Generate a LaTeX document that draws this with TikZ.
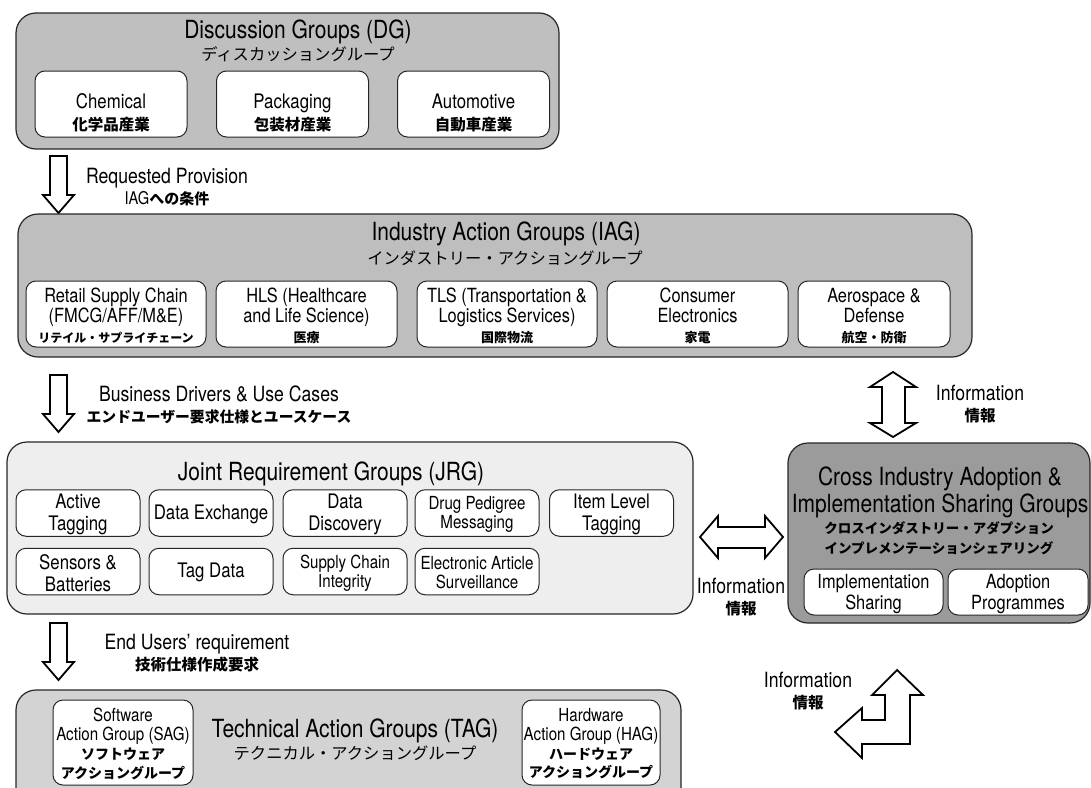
\documentclass[tikz,border=0pt]{standalone}
\usepackage{fontspec}
\setmainfont{TeX Gyre Heros}[FakeStretch=0.84]
\newfontfamily\jp{Noto Sans CJK JP}
\newcommand\jpb{\jp\bfseries}
\newcommand\fsz[2]{\fontsize{#1}{#2}\selectfont}
\definecolor{dgfill}{HTML}{BFBFBF}
\definecolor{iagfill}{HTML}{BEBEBE}
\definecolor{jrgfill}{HTML}{EEEEEE}
\definecolor{tagfill}{HTML}{D3D3D3}
\definecolor{ciagfill}{HTML}{9B9B9B}
\definecolor{edge}{HTML}{262626}
\begin{document}
\begin{tikzpicture}[x=1pt,y=-1pt,
  grp/.style={draw=edge, line width=1.2pt, rounded corners=20pt, inner sep=0pt},
  sub/.style={draw=edge, fill=white, line width=1pt, rounded corners=10pt, inner sep=0pt},
  txt/.style={align=center, inner sep=0pt},
  ttl/.style={txt, font={\fsz{25}{27}}},
  ttljp/.style={txt, font={\jp\fsz{16.3}{18}}},
  lbl/.style={txt, font={\fsz{21}{21}}},
  blk/.style={draw=black, fill=white, line width=1.8pt, line join=miter, miter limit=10},
  downblock/.pic={\draw[blk] (-8.5,0) -- (8.5,0) -- (8.5,39) -- (15.5,39) -- (0,57)
                   -- (-15.5,39) -- (-8.5,39) -- cycle;}
]
\useasboundingbox (0,0) rectangle (1091,787);
\clip (0,0) rectangle (1091,787);

% ---------- Discussion Groups ----------
\node[grp, fill=dgfill, minimum width=543pt, minimum height=136pt] (dg) at (287.5,81) {};
\node[ttl] (dgT) at (298,32) {Discussion Groups (DG)};
\node[ttljp] (dgJ) at (298,54) {ディスカッショングループ};
\foreach \nm/\cx/\en/\ja in {chem/111/Chemical/化学品産業,
                             pack/292.5/Packaging/包装材産業,
                             auto/473.5/Automotive/自動車産業}{
  \node[sub, minimum width=152pt, minimum height=66pt] (\nm) at (\cx,104) {};
  \node[txt, font={\fsz{20}{22}}] (\nm-t) at (\cx,113) {\en\\{\jpb\fsz{15.5}{22}\ja}};
}

% ---------- arrow DG -> IAG ----------
\pic at (58.5,156) {downblock};
\node[lbl] (reqL) at (167,187) {Requested Provision\\{\fsz{17.5}{21}IAG{\jpb\fsz{15}{21}への条件}}};

% ---------- Industry Action Groups ----------
\node[grp, fill=iagfill, minimum width=954pt, minimum height=143pt] (iag) at (495,285.5) {};
\node[ttl] (iagT) at (506,234) {Industry Action Groups (IAG)};
\node[ttljp] (iagJ) at (505,258) {インダストリー・アクショングループ};
\node[sub, minimum width=180pt, minimum height=66pt] (retail) at (116,314) {};
\node[sub, minimum width=181pt, minimum height=66pt] (hls) at (306.5,314) {};
\node[sub, minimum width=180pt, minimum height=66pt] (tls) at (507,314) {};
\node[sub, minimum width=181pt, minimum height=66pt] (ce) at (697.5,314) {};
\node[sub, minimum width=152pt, minimum height=66pt] (ad) at (874,314) {};
\tikzset{iagtxt/.style={txt, font={\fsz{19.5}{20}}}}
\node[iagtxt] (retail-t) at (116,316) {Retail Supply Chain\\(FMCG/AFF/M\&E)\\{\jpb\fsz{12}{20}リテイル・サプライチェーン}};
\node[iagtxt] (hls-t) at (306.5,316) {HLS (Healthcare\\and Life Science)\\{\jpb\fsz{13}{20}医療}};
\node[iagtxt] (tls-t) at (507,316) {TLS (Transportation \&\\Logistics Services)\\{\jpb\fsz{13}{20}国際物流}};
\node[iagtxt] (ce-t) at (697.5,316) {Consumer\\Electronics\\{\jpb\fsz{13}{20}家電}};
\node[iagtxt] (ad-t) at (874,316) {Aerospace \&\\Defense\\{\jpb\fsz{13}{20}航空・防衛}};

% ---------- arrow IAG -> JRG ----------
\pic at (58.5,375) {downblock};
\node[lbl] (bizL) at (219,405) {Business Drivers \& Use Cases\\{\jpb\fsz{14.8}{21}エンドユーザー要求仕様とユースケース}};

% ---------- IAG <-> CIAG ----------
\draw[blk] (893,372) -- (916,387) -- (905,387) -- (905,423) -- (916,423) -- (893,437)
  -- (870,423) -- (882,423) -- (882,387) -- (870,387) -- cycle;
\node[lbl] (infoA) at (980,404) {Information\\{\jpb\fsz{15.5}{21}情報}};

% ---------- Joint Requirement Groups ----------
\node[grp, fill=jrgfill, minimum width=686pt, minimum height=172pt] (jrg) at (350,528) {};
\node[ttl] (jrgT) at (331,474) {Joint Requirement Groups (JRG)};
\tikzset{jbig/.style={txt, font={\fsz{20}{22}}}, jsmall/.style={txt, font={\fsz{18}{19}}}}
\foreach \nm/\cx/\cy in {at/78/513, dx/211/513, dd/345/513, dp/477/513, il/611.5/513,
                         sb/78/571.5, td/211/571.5, sc/345/571.5, ea/477/571.5}{
  \node[sub, minimum width=124pt, minimum height=46.5pt] (\nm) at (\cx,\cy) {};
}
\node[jbig] (at-t) at (78,514) {Active\\Tagging};
\node[jbig] (dx-t) at (211,514) {Data Exchange};
\node[jbig] (dd-t) at (345,514) {Data\\Discovery};
\node[jsmall] (dp-t) at (477,514) {Drug Pedigree\\Messaging};
\node[jbig] (il-t) at (611.5,514) {Item Level\\Tagging};
\node[jbig] (sb-t) at (78,573) {Sensors \&\\Batteries};
\node[jbig] (td-t) at (211,572) {Tag Data};
\node[jsmall] (sc-t) at (345,573) {Supply Chain\\Integrity};
\node[jsmall] (ea-t) at (477,573) {Electronic Article\\Surveillance};

% ---------- JRG <-> CIAG ----------
\draw[blk] (700,537) -- (718,516) -- (718,527) -- (765,527) -- (765,516) -- (783,537)
  -- (765,558) -- (765,548) -- (718,548) -- (718,558) -- cycle;
\node[lbl] (infoB) at (741,597) {Information\\{\jpb\fsz{15.5}{21}情報}};

% ---------- Cross Industry Adoption & Implementation Sharing Groups ----------
\node[grp, fill=ciagfill, minimum width=302pt, minimum height=180pt] (ciag) at (939,533) {};
\node[ttl] (ciagT) at (940,492) {Cross Industry Adoption \&\\Implementation Sharing Groups};
\node[txt, font={\jpb\fsz{13.5}{20}}] (ciagJ) at (939,538) {クロスインダストリー・アダプション\\インプレメンテーションシェアリング};
\node[sub, minimum width=139pt, minimum height=46pt] (impl) at (873.5,592) {};
\node[sub, minimum width=140pt, minimum height=46pt] (adop) at (1018,592) {};
\node[txt, font={\fsz{19.5}{21}}] (impl-t) at (873.5,594) {Implementation\\Sharing};
\node[txt, font={\fsz{19.5}{21}}] (adop-t) at (1018,594) {Adoption\\Programmes};

% ---------- arrow JRG -> TAG ----------
\pic at (58.5,623) {downblock};
\node[lbl] (endL) at (197,653) {End Users' requirement\\{\jpb\fsz{15.5}{21}技術仕様作成要求}};

% ---------- CIAG <-> TAG ----------
\draw[blk] (897,670) -- (923,695) -- (910,695) -- (910,744) -- (862,744) -- (862,758)
  -- (835,732) -- (862,708) -- (862,720) -- (885,720) -- (885,695) -- (872,695) -- cycle;
\node[lbl] (infoC) at (808,691) {Information\\{\jpb\fsz{15.5}{21}情報}};

% ---------- Technical Action Groups ----------
\node[grp, fill=tagfill, minimum width=665pt, minimum height=120pt] (tag) at (348.5,750) {};
\node[ttl] (tagT) at (355,731) {Technical Action Groups (TAG)};
\node[ttljp] (tagJ) at (355,753) {テクニカル・アクショングループ};
\node[sub, minimum width=140pt, minimum height=85pt] (sag) at (123,742.5) {};
\node[sub, minimum width=138pt, minimum height=85pt] (hag) at (591,742.5) {};
\node[txt, font={\fsz{18}{18.7}}] (sag-t) at (123,744) {Software\\Action Group (SAG)\\{\jpb\fsz{14}{18.7}ソフトウェア}\\{\jpb\fsz{14}{18.7}アクショングループ}};
\node[txt, font={\fsz{18}{18.7}}] (hag-t) at (591,744) {Hardware\\Action Group (HAG)\\{\jpb\fsz{14}{18.7}ハードウェア}\\{\jpb\fsz{14}{18.7}アクショングループ}};
\end{tikzpicture}
\end{document}
